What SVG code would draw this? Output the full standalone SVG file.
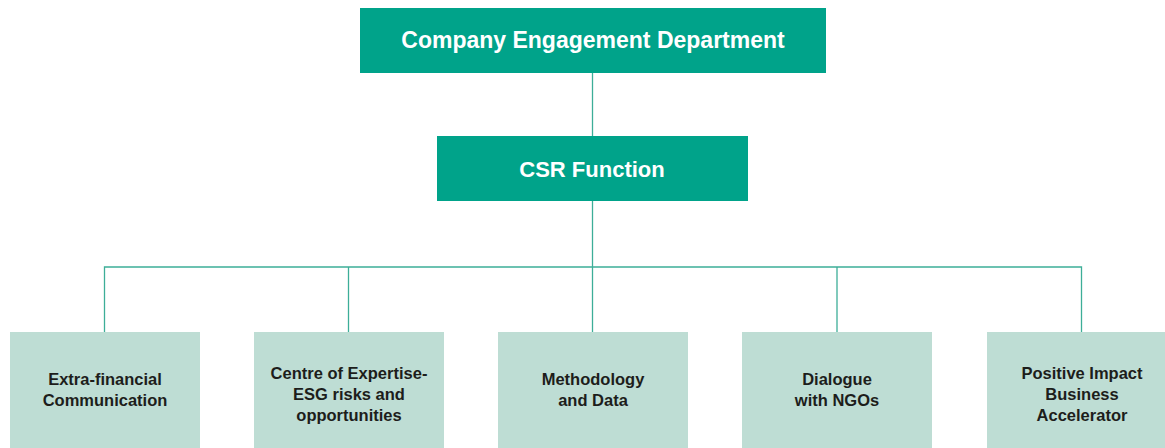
<svg xmlns="http://www.w3.org/2000/svg" width="1165" height="448" viewBox="0 0 1165 448">
<style>
.dark{fill:#00A38A}
.light{fill:#BEDDD4}
.t1{font-family:"Liberation Sans",Arial,sans-serif;font-weight:bold;fill:#ffffff;text-anchor:middle}
.t2{font-family:"Liberation Sans",Arial,sans-serif;font-weight:bold;font-size:16.5px;fill:#1d1d1b;text-anchor:middle}
.conn{stroke:#3DAE98;stroke-width:1.3;fill:none}
</style>
<rect width="1165" height="448" fill="#ffffff"/>
<g id="connectors">
<line class="conn" x1="592.5" y1="73" x2="592.5" y2="136"/>
<line class="conn" x1="592.5" y1="201" x2="592.5" y2="332"/>
<polyline class="conn" points="104.5,332 104.5,267 1081.5,267 1081.5,332"/>
<line class="conn" x1="348.5" y1="267" x2="348.5" y2="332"/>
<line class="conn" x1="837" y1="267" x2="837" y2="332"/>
</g>
<g id="company-engagement">
<rect class="dark" x="360" y="8" width="466" height="65"/>
<text class="t1" x="593" y="48" font-size="23">Company Engagement Department</text>
</g>
<g id="csr-function">
<rect class="dark" x="437" y="136" width="311" height="65"/>
<text class="t1" x="592" y="177" font-size="22">CSR Function</text>
</g>
<g id="extra-financial">
<rect class="light" x="10" y="332" width="190" height="116"/>
<text class="t2" x="105" y="385">Extra-financial</text>
<text class="t2" x="105" y="406">Communication</text>
</g>
<g id="centre-expertise">
<rect class="light" x="254" y="332" width="190" height="116"/>
<text class="t2" x="349" y="379">Centre of Expertise-</text>
<text class="t2" x="349" y="400">ESG risks and</text>
<text class="t2" x="349" y="421">opportunities</text>
</g>
<g id="methodology">
<rect class="light" x="498" y="332" width="190" height="116"/>
<text class="t2" x="593" y="385">Methodology</text>
<text class="t2" x="593" y="406">and Data</text>
</g>
<g id="dialogue">
<rect class="light" x="742" y="332" width="190" height="116"/>
<text class="t2" x="837" y="385">Dialogue</text>
<text class="t2" x="837" y="406">with NGOs</text>
</g>
<g id="positive-impact">
<rect class="light" x="987" y="332" width="190" height="116"/>
<text class="t2" x="1082" y="379">Positive Impact</text>
<text class="t2" x="1082" y="400">Business</text>
<text class="t2" x="1082" y="421">Accelerator</text>
</g>
</svg>
